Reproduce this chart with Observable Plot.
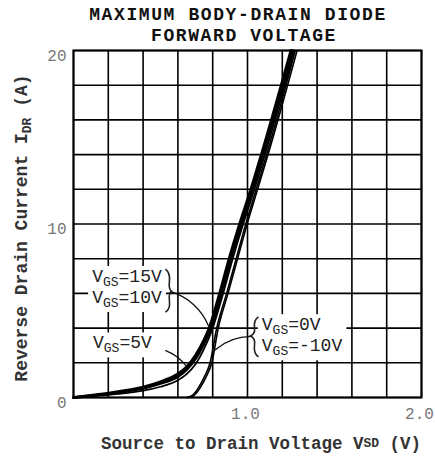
<!DOCTYPE html>
<html><head><meta charset="utf-8">
<script src="https://cdn.jsdelivr.net/npm/d3@7"></script>
<script src="https://cdn.jsdelivr.net/npm/@observablehq/plot@0.6"></script>
<style>body{margin:0;background:#fff} svg{display:block}</style>
</head><body><div id="chart"></div>
<script>
// ---- data ----
const vsd15 = [0, 0.1, 0.2, 0.3, 0.4, 0.5, 0.6, 0.65, 0.7, 0.75, 0.78, 0.84, 0.895, 0.955, 1.02, 1.08, 1.25];
const idr15 = [0, 0.12, 0.25, 0.4, 0.6, 0.9, 1.35, 1.75, 2.4, 3.3, 4.0, 6, 8, 10, 12, 14, 20];
const vsd10 = [0, 0.1, 0.2, 0.3, 0.4, 0.5, 0.6, 0.65, 0.7, 0.75, 0.79, 0.85, 0.905, 0.965, 1.03, 1.09, 1.26];
const idr10 = [0, 0.1, 0.2, 0.35, 0.52, 0.8, 1.2, 1.6, 2.2, 3.1, 4.0, 6, 8, 10, 12, 14, 20];
const vsd5 = [0, 0.1, 0.2, 0.3, 0.4, 0.5, 0.6, 0.65, 0.7, 0.75, 0.8, 0.86, 0.915, 0.975, 1.04, 1.1, 1.27];
const idr5 = [0, 0.07, 0.15, 0.25, 0.4, 0.62, 1.0, 1.35, 1.9, 2.8, 4.0, 6, 8, 10, 12, 14, 20];
const vsd0 = [0.65, 0.68, 0.7, 0.72, 0.75, 0.785, 0.823, 0.88, 0.935, 0.99, 1.05, 1.11, 1.275];
const idr0 = [0, 0.1, 0.3, 0.6, 1.15, 2.0, 4.0, 6, 8, 10, 12, 14, 20];
const vsdM10 = [0.66, 0.69, 0.71, 0.73, 0.76, 0.795, 0.832, 0.888, 0.943, 0.998, 1.058, 1.118, 1.285];
const idrM10 = [0, 0.1, 0.3, 0.6, 1.15, 2.0, 4.0, 6, 8, 10, 12, 14, 20];

const xGridValues = [0, 0.2, 0.4, 0.6, 0.8, 1.0, 1.2, 1.4, 1.6, 1.8, 2.0];
const yGridValues = [0, 2, 4, 6, 8, 10, 12, 14, 16, 18, 20];
const xTickLabels = [1.0, 2.0];
const yTickLabels = [0, 10, 20];

// annotation anchors (data units)
const labelNames = [["15V", "10V"], ["5V"], ["0V", "-10V"]];
const labelV = [0.11, 0.115, 1.085];
const labelI = [6.63, 2.8, 3.85];
const arrowFromV = [0.56, 0.53, 1.02];
const arrowFromI = [6.1, 2.7, 3.52];
const arrowToV = [0.775, 0.645, 0.815];
const arrowToI = [4.15, 1.85, 2.75];

const mk = (v, i, s) => v.map((d, k) => ({v: d, i: i[k], s}));
const series = [
  {rows: mk(vsd15, idr15, "15V"), w: 3},
  {rows: mk(vsd10, idr10, "10V"), w: 2.6},
  {rows: mk(vsd5, idr5, "5V"), w: 1.8},
  {rows: mk(vsd0, idr0, "0V"), w: 1.6},
  {rows: mk(vsdM10, idrM10, "-10V"), w: 1.6}
];
const arrows = arrowFromV.map((d, k) => ({x1: d, y1: arrowFromI[k], x2: arrowToV[k], y2: arrowToI[k]}));

const FONT = "'Liberation Mono', 'DejaVu Sans Mono', monospace";
const chart = Plot.plot({
  width: 435, height: 457,
  marginTop: 50, marginLeft: 73, marginRight: 14, marginBottom: 60,
  x: {domain: [0, 2], axis: null},
  y: {domain: [0, 20], axis: null},
  style: {fontFamily: FONT, background: "#fff"},
  marks: [
    Plot.gridX(xGridValues, {stroke: "#000", strokeOpacity: 1, strokeWidth: 1.6}),
    Plot.gridY(yGridValues, {stroke: "#000", strokeOpacity: 1, strokeWidth: 1.6}),
    ...series.map(s => Plot.line(s.rows, {x: "v", y: "i", stroke: "#000", strokeWidth: s.w, curve: "monotone-x"})),
    Plot.frame({stroke: "#000", strokeWidth: 2}),
    Plot.text(xTickLabels, {x: d => d, y: 0, text: d => d.toFixed(1), dy: 16, fontSize: 16, fill: "#777", dx: -2}),
    Plot.text(yTickLabels, {x: 0, y: d => d, text: d => String(d), dx: -7, dy: 5, textAnchor: "end", fontSize: 16, fill: "#777"})
  ]
});
document.getElementById("chart").appendChild(chart);

const X = chart.scale("x"), Y = chart.scale("y");
const svg = d3.select(chart);

// title
const title = svg.append("g").attr("font-family", FONT).attr("font-weight", "bold").attr("font-size", 18)
  .attr("letter-spacing", 1.6).attr("text-anchor", "middle").attr("fill", "#111");
title.append("text").attr("x", 238).attr("y", 20).text("MAXIMUM BODY-DRAIN DIODE");
title.append("text").attr("x", 244).attr("y", 41).text("FORWARD VOLTAGE");

// axis titles
const xl = svg.append("text").attr("font-family", FONT).attr("font-weight", "bold").attr("font-size", 17.5).attr("fill", "#333")
  .attr("text-anchor", "middle").attr("x", 261).attr("y", 449);
xl.append("tspan").text("Source to Drain Voltage V");
xl.append("tspan").attr("font-size", 13).attr("dy", -2).text("SD");
xl.append("tspan").attr("dy", 2).text(" (V)");

const yl = svg.append("text").attr("font-family", FONT).attr("font-weight", "bold").attr("font-size", 18).attr("fill", "#333")
  .attr("text-anchor", "middle").attr("transform", "translate(27,228) rotate(-90)");
yl.append("tspan").text("Reverse Drain Current I");
yl.append("tspan").attr("font-size", 13).attr("dy", 4).text("DR");
yl.append("tspan").attr("dy", -4).text(" (A)");

// curve labels with white backgrounds
const ann = svg.append("g").attr("font-family", FONT).attr("fill", "#222").attr("text-anchor", "start");
function vgs(g, x, y, val) {
  const t = g.append("text").attr("x", x).attr("y", y).attr("font-size", 18).attr("text-anchor", "start");
  t.append("tspan").text("V");
  t.append("tspan").attr("font-size", 13).attr("dy", 4).text("GS");
  t.append("tspan").attr("dy", -4).text("=" + val);
  return t;
}
labelNames.forEach((names, k) => {
  const g = ann.append("g");
  const x0 = X.apply(labelV[k]), y0 = Y.apply(labelI[k]);
  names.forEach((n, j) => vgs(g, x0, y0 + j * 21, n));
  const bb = g.node().getBBox();
  g.insert("rect", ":first-child").attr("fill", "#fff")
    .attr("x", bb.x - 4).attr("y", bb.y - 1).attr("width", bb.width + 8).attr("height", bb.height + 2);
});

// leader lines drawn through Plot's arrow mark, layered above the label backgrounds
const leaders = Plot.plot({
  width: 435, height: 457,
  marginTop: 50, marginLeft: 73, marginRight: 14, marginBottom: 60,
  x: {domain: [0, 2], axis: null},
  y: {domain: [0, 20], axis: null},
  marks: [
    Plot.arrow([arrows[0]], {x1: "x1", y1: "y1", x2: "x2", y2: "y2", bend: 25, headLength: 0, strokeWidth: 1.3, stroke: "#111"}),
    Plot.arrow([arrows[1]], {x1: "x1", y1: "y1", x2: "x2", y2: "y2", bend: 15, headLength: 0, strokeWidth: 1.3, stroke: "#111"}),
    Plot.arrow([arrows[2]], {x1: "x1", y1: "y1", x2: "x2", y2: "y2", bend: -20, headLength: 0, strokeWidth: 1.3, stroke: "#111"})
  ]
});
d3.select(leaders).selectAll(":scope > g").each(function() { chart.appendChild(this); });

// braces
const b1x = X.apply(arrowFromV[0]), b1y = Y.apply(arrowFromI[0]);
ann.append("path").attr("fill", "none").attr("stroke", "#222").attr("stroke-width", 1.6)
  .attr("d", `M${b1x-5},${b1y-22} Q${b1x},${b1y-18} ${b1x-1},${b1y-10} Q${b1x-2},${b1y-2} ${b1x+1},${b1y} Q${b1x-2},${b1y+2} ${b1x-1},${b1y+10} Q${b1x},${b1y+18} ${b1x-5},${b1y+21}`);
const b2x = X.apply(arrowFromV[2]), b2y = Y.apply(arrowFromI[2]);
ann.append("path").attr("fill", "none").attr("stroke", "#222").attr("stroke-width", 1.6)
  .attr("d", `M${b2x+8},${b2y-19} Q${b2x+3},${b2y-16} ${b2x+4},${b2y-8} Q${b2x+5},${b2y-2} ${b2x},${b2y} Q${b2x+5},${b2y+2} ${b2x+4},${b2y+9} Q${b2x+3},${b2y+18} ${b2x+8},${b2y+21}`);
</script>
</body></html>
